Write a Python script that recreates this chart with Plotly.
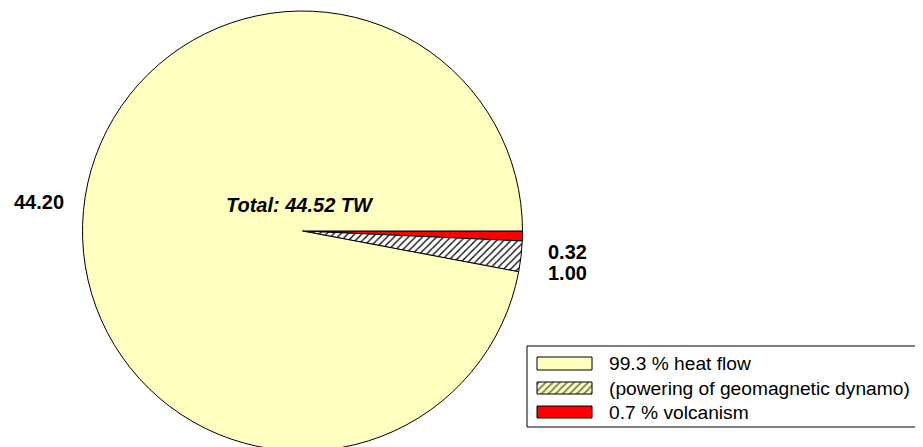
import plotly.graph_objects as go

# ---- data ----
categories = ["99.3 % heat flow", "(powering of geomagnetic dynamo)", "0.7 % volcanism"]
heat_flow = 44.20          # TW, label shown for the heat-flow slice
dynamo = 1.00              # TW, part of heat flow powering the dynamo
volcanism = 0.32           # TW
total_label = "Total: 44.52 TW"

W, H = 915, 447
OFF = 8  # page body margin in the browser
FONT = "Arial, Liberation Sans, sans-serif"
YELLOW = "#FFFFC0"
RED = "#FF0000"
FS = 20
FS_LEG = 19.2

def px(x):
    return (x - OFF) / W

def py(y):
    return 1 - (y - OFF) / H

# pie slices (clockwise from 3 o'clock): volcanism, dynamo, rest of heat flow
slice_labels = [categories[2], categories[1], categories[0]]
slice_values = [volcanism, dynamo, heat_flow - dynamo]

fig = go.Figure()

cx, cy, r = 302.5, 231, 220
fig.add_trace(go.Pie(
    labels=slice_labels,
    values=slice_values,
    sort=False,
    direction="clockwise",
    rotation=90,
    textinfo="none",
    hoverinfo="label+value",
    showlegend=False,
    marker=dict(
        colors=[RED, YELLOW, YELLOW],
        line=dict(color="black", width=1),
        pattern=dict(shape=["", "/", ""], fgcolor="black", size=5, solidity=0.25, fillmode="replace"),
    ),
    domain=dict(x=[px(cx - r), px(cx + r)], y=[py(cy + r), py(cy - r)]),
))

# hidden pixel axes for legend swatch with pattern
fig.add_trace(go.Scatter(
    x=[537 - OFF, 592 - OFF, 592 - OFF, 537 - OFF, 537 - OFF],
    y=[382 - OFF, 382 - OFF, 394 - OFF, 394 - OFF, 382 - OFF],
    mode="lines", fill="toself", fillcolor=YELLOW,
    fillpattern=dict(shape="/", fgcolor="black", bgcolor=YELLOW, size=5, solidity=0.35),
    line=dict(color="black", width=1), showlegend=False, hoverinfo="skip",
))
fig.update_xaxes(range=[0, W], visible=False, fixedrange=True)
fig.update_yaxes(range=[H, 0], visible=False, fixedrange=True)

shapes = [
    dict(type="rect", xref="paper", yref="paper", x0=px(527), x1=px(950), y0=py(346), y1=py(427),
         line=dict(color="black", width=1), fillcolor="rgba(0,0,0,0)"),
    dict(type="rect", xref="paper", yref="paper", x0=px(537), x1=px(592), y0=py(357), y1=py(370),
         line=dict(color="black", width=1), fillcolor=YELLOW),
    dict(type="rect", xref="paper", yref="paper", x0=px(537), x1=px(592), y0=py(406), y1=py(418),
         line=dict(color="black", width=1), fillcolor=RED),
]

annotations = []
for name, yc in zip(categories, [363, 388, 412]):
    annotations.append(dict(text=name, x=px(607), y=py(yc), xref="paper", yref="paper",
                            xanchor="left", yanchor="middle", showarrow=False,
                            font=dict(family=FONT, size=FS_LEG, color="black")))

bold = dict(family=FONT, size=FS, color="black")
annotations += [
    dict(text=f"<b>{heat_flow:.2f}</b>", x=px(12), y=py(202), xref="paper", yref="paper",
         xanchor="left", yanchor="middle", showarrow=False, font=bold),
    dict(text=f"<b>{volcanism:.2f}</b>", x=px(546), y=py(252), xref="paper", yref="paper",
         xanchor="left", yanchor="middle", showarrow=False, font=bold),
    dict(text=f"<b>{dynamo:.2f}</b>", x=px(546), y=py(273), xref="paper", yref="paper",
         xanchor="left", yanchor="middle", showarrow=False, font=bold),
    dict(text=f"<b><i>{total_label}</i></b>", x=px(300), y=py(205), xref="paper", yref="paper",
         xanchor="center", yanchor="middle", showarrow=False, font=bold),
]

fig.update_layout(
    width=W, height=H,
    margin=dict(l=0, r=0, t=0, b=0),
    paper_bgcolor="white", plot_bgcolor="rgba(0,0,0,0)",
    shapes=shapes, annotations=annotations,
    showlegend=False,
    font=dict(family=FONT),
)

fig.write_html("out.html")
